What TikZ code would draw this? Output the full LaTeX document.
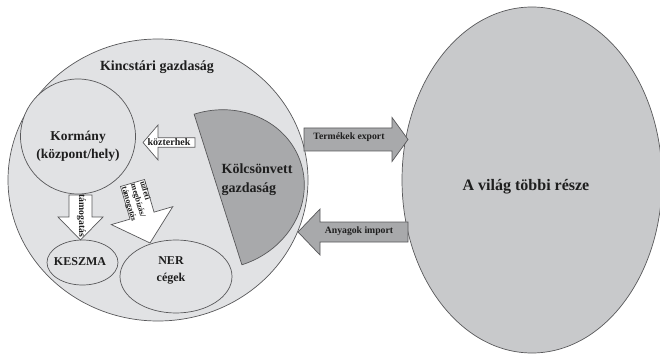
\documentclass[tikz,border=0pt]{standalone}
\usepackage{fontspec}
\setmainfont{Liberation Serif}
\usetikzlibrary{shapes.geometric}

\definecolor{rim}{RGB}{88,88,90}
\definecolor{paleg}{RGB}{225,226,228}
\definecolor{worldg}{RGB}{200,201,203}
\definecolor{darkg}{RGB}{168,169,171}
\definecolor{ink}{RGB}{30,30,30}

% block arrow: tail at the origin, pointing along x
% #1 half body, #2 half head, #3 start of head, #4 tip
\newcommand{\blockarr}[4]{(0,-#1) -- (#3,-#1) -- (#3,-#2) -- (#4,0) -- (#3,#2) -- (#3,#1) -- (0,#1) -- cycle}

\tikzset{
	bubble/.style={draw=rim,fill=paleg,line width=0.7pt,inner sep=0pt},
	flow/.style={draw=rim,fill=darkg,line width=0.7pt},
	hollow/.style={draw=rim,fill=white,line width=0.7pt},
	big/.style={text=ink,font=\fontsize{14}{18}\selectfont\bfseries,inner sep=0pt},
	mid/.style={text=ink,font=\fontsize{12}{17}\selectfont\bfseries,inner sep=0pt},
	small/.style={text=ink,font=\fontsize{9.7}{11}\selectfont\bfseries,inner sep=0pt},
	tiny/.style={text=ink,font=\fontsize{8.2}{9.6}\selectfont\bfseries,inner sep=0pt}
}

\begin{document}
\begin{tikzpicture}[x=1pt,y=-1pt]
	\useasboundingbox (0,0) rectangle (660,355);

	% the two economies
	\node[bubble,ellipse,minimum width=300pt,minimum height=282pt] (kincs) at (158,180) {};
	\node[bubble,ellipse,fill=worldg,minimum width=260pt,minimum height=346pt] (world) at (532,180) {};

	\begin{scope}[shift={(218,189.5)},rotate=17.6]
		\draw[flow] (0,-79) arc[start angle=-90,end angle=90,x radius=87,y radius=79] -- cycle;
	\end{scope}

	\node[bubble,circle,minimum size=115pt] (korm) at (78,136.5) {};
	\node[bubble,ellipse,minimum width=71pt,minimum height=45pt] (keszma) at (82.5,262.5) {};
	\node[bubble,ellipse,minimum width=112pt,minimum height=73pt] (ner) at (176,276.5) {};

	% arrows
	\begin{scope}[shift={(304,139.5)}]
		\draw[flow] \blockarr{11.5}{22}{88}{104};
	\end{scope}
	\begin{scope}[shift={(408,232)},rotate=180]
		\draw[flow] \blockarr{10}{23}{88}{110};
	\end{scope}
	\begin{scope}[shift={(195,142.5)},rotate=180]
		\draw[hollow] \blockarr{4.8}{17.5}{37}{52};
	\end{scope}
	\begin{scope}[shift={(80.5,195)},rotate=-90]
		\draw[hollow] \blockarr{11.5}{22.5}{22}{45};
	\end{scope}
	\begin{scope}[shift={(132.5,183)},rotate=-73.7]
		\draw[hollow] \blockarr{12.5}{32}{34}{62.5};
		\node[tiny,anchor=west,align=left,rotate=-73.7] (uzleti) at (1,0) {üzleti\\megbízás/\\támogatás};
	\end{scope}

	% labels
	\node[big] (kincstitle) at (157,67) {Kincstári gazdaság};
	\node[big,align=center,font=\fontsize{13.5}{17.5}\selectfont\bfseries] (kormtext) at (78,146.5) {Kormány\\(központ/hely)};
	\node[big,anchor=west,align=left,font=\fontsize{14}{19}\selectfont\bfseries] (kolcs) at (221.5,180) {Kölcsönvett\\gazdaság};
	\node[big,font=\fontsize{16}{18}\selectfont\bfseries] (worldtext) at (526,187) {A világ többi része};
	\node[mid] (keszmatext) at (80,262) {KESZMA};
	\node[mid,align=center] (nertext) at (171,270) {NER\\cégek};
	\node[small] (export) at (349,137) {Termékek export};
	\node[small] (import) at (359,231) {Anyagok import};
	\node[small,font=\fontsize{10}{11}\selectfont\bfseries] (kozter) at (169,142.5) {közterhek};
	\node[small,rotate=-90] (tamog) at (81.5,216) {támogatás};
\end{tikzpicture}
\end{document}
